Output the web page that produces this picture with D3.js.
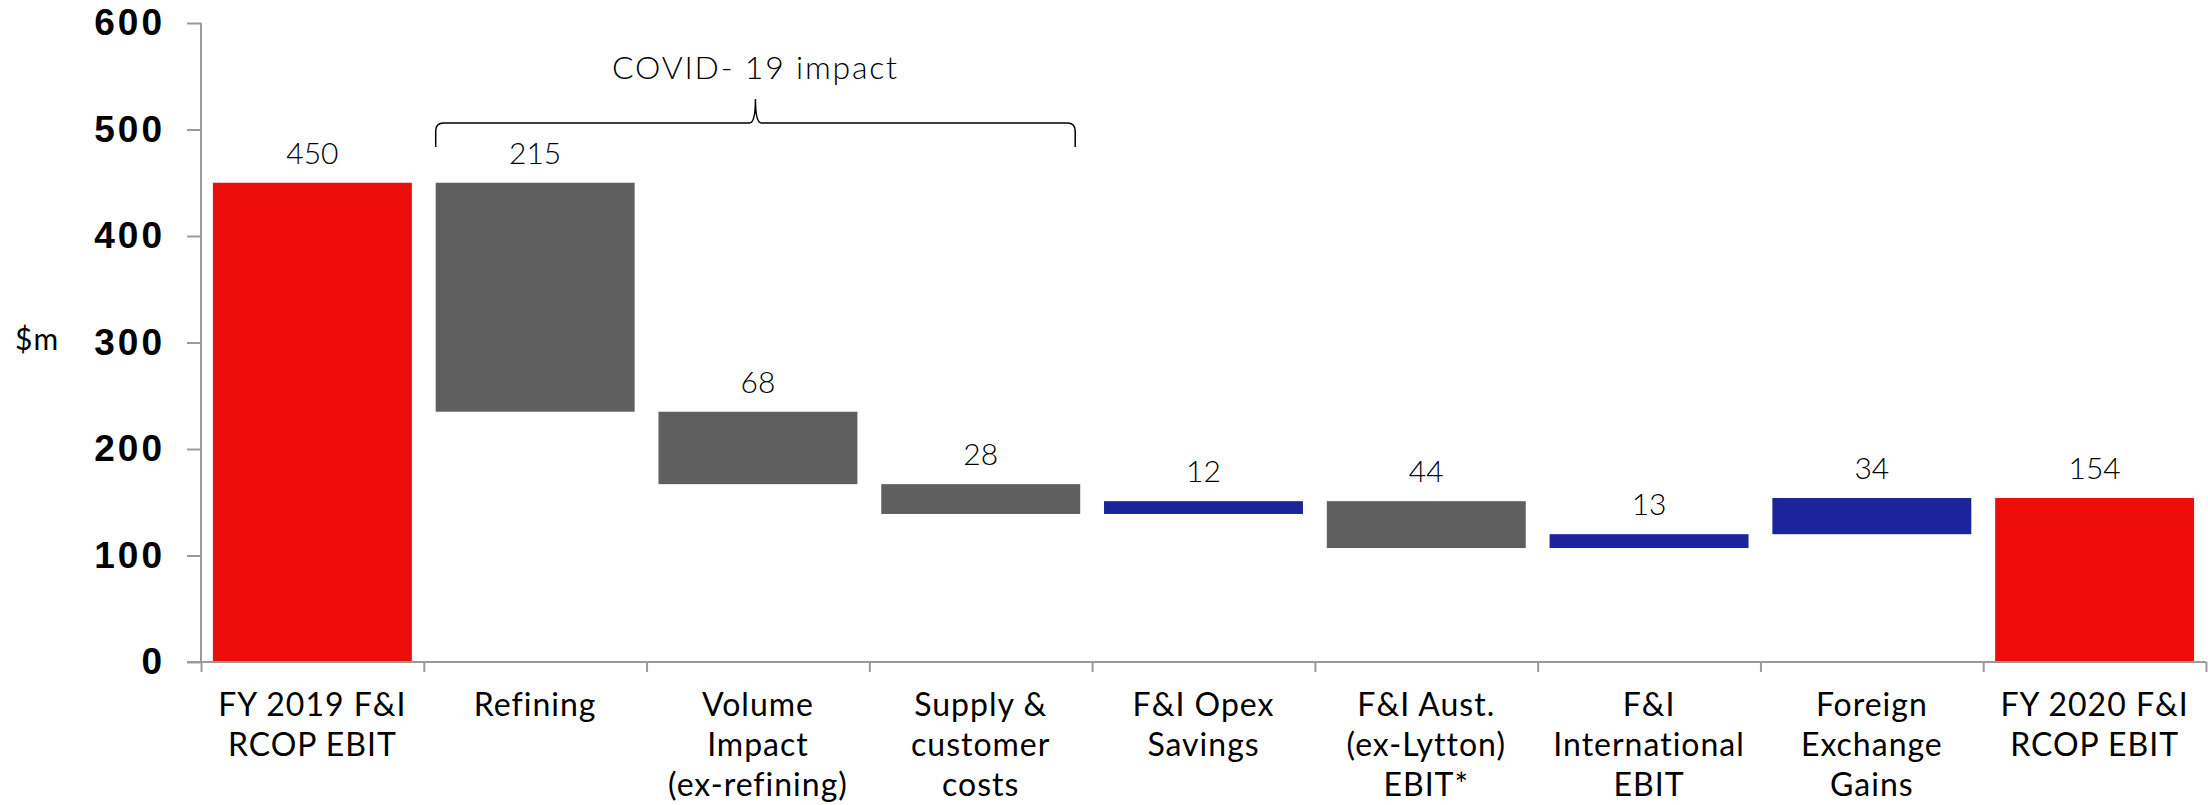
<!DOCTYPE html>
<html>
<head>
<meta charset="utf-8">
<script src="https://cdn.jsdelivr.net/npm/d3@7"></script>
<style>
  html, body { margin: 0; padding: 0; background: #ffffff; }
  svg { display: block; }
</style>
</head>
<body>
<svg id="chart" width="2208" height="805"></svg>
<script>
// F&I RCOP EBIT bridge, FY2019 to FY2020 ($m)
const categories = [
  ["FY 2019 F&I", "RCOP EBIT"],
  ["Refining"],
  ["Volume", "Impact", "(ex-refining)"],
  ["Supply &", "customer", "costs"],
  ["F&I Opex", "Savings"],
  ["F&I Aust.", "(ex-Lytton)", "EBIT*"],
  ["F&I", "International", "EBIT"],
  ["Foreign", "Exchange", "Gains"],
  ["FY 2020 F&I", "RCOP EBIT"]
];
// step kind: total, decrease, increase
const kinds = ["total", "down", "down", "down", "up", "down", "up", "up", "total"];
const values = [450, 215, 68, 28, 12, 44, 13, 34, 154];
const yTicks = [0, 100, 200, 300, 400, 500, 600];
const bracketLabel = "COVID- 19 impact";
const bracketFrom = 1, bracketTo = 3;

const colors = { total: "#ed0e0b", down: "#5f5f5f", up: "#1b249b" };

// running totals give each floating bar its start and end
let running = 0;
const steps = values.map((v, i) => {
  let lo, hi;
  if (kinds[i] === "total") { lo = 0; hi = v; running = v; }
  else if (kinds[i] === "down") { hi = running; lo = running - v; running = lo; }
  else { lo = running; hi = running + v; running = hi; }
  return { i, v, lo, hi, kind: kinds[i] };
});

const svg = d3.select("#chart");
const plotL = 201, plotR = 2206, plotT = 23, plotB = 662;

const y = d3.scaleLinear().domain([0, 600]).range([plotB, plotT]);
const x = d3.scaleBand().domain(d3.range(categories.length)).range([plotL, plotR]).paddingInner(0.107).paddingOuter(0.0535);
const xb = d3.scaleLinear().domain([0, categories.length]).range([plotL, plotR]);

// y axis
const yAxis = svg.append("g").attr("transform", `translate(${plotL},0)`)
  .call(d3.axisLeft(y).tickValues(yTicks).tickSize(14).tickPadding(22).tickFormat(d3.format("d")));
yAxis.select(".domain").attr("stroke", "#9a9a9a").attr("stroke-width", 2).attr("d", `M0,${plotT}V${plotB}`);
yAxis.selectAll(".tick line").attr("stroke", "#9a9a9a").attr("stroke-width", 2);
yAxis.selectAll(".tick text")
  .attr("font-family", "'Liberation Sans', Arial, sans-serif").attr("font-weight", 700)
  .attr("font-size", 37).attr("fill", "#000").attr("letter-spacing", 3);

svg.append("text").attr("x", 15).attr("y", 350)
  .attr("font-family", "Lato, sans-serif").attr("font-size", 30).attr("fill", "#000")
  .attr("letter-spacing", 1)
  .text("$m");

// bars
svg.append("g").selectAll("rect").data(steps).join("rect")
  .attr("x", d => x(d.i))
  .attr("width", x.bandwidth())
  .attr("y", d => y(d.hi))
  .attr("height", d => y(d.lo) - y(d.hi))
  .attr("fill", d => colors[d.kind]);

// value labels
svg.append("g").selectAll("text").data(steps).join("text")
  .attr("x", d => x(d.i) + x.bandwidth() / 2)
  .attr("y", d => y(d.hi) - 19)
  .attr("text-anchor", "middle")
  .attr("font-family", "Lato, sans-serif").attr("font-weight", 300)
  .attr("font-size", 30).attr("fill", "#000")
  .text(d => d.v);

// x axis with ticks on category boundaries
const xAxis = svg.append("g").attr("transform", `translate(0,${plotB})`)
  .call(d3.axisBottom(xb).tickValues(d3.range(categories.length + 1)).tickSize(10).tickFormat(""));
xAxis.select(".domain").attr("stroke", "#9a9a9a").attr("stroke-width", 2).attr("d", `M${plotL - 14},0H${plotR}`);
xAxis.selectAll(".tick line").attr("stroke", "#9a9a9a").attr("stroke-width", 2);

// category labels
const catG = svg.append("g").selectAll("text").data(categories).join("text")
  .attr("text-anchor", "middle")
  .attr("font-family", "Lato, sans-serif").attr("font-size", 32).attr("fill", "#000")
  .attr("letter-spacing", 1)
  .attr("transform", (d, i) => `translate(${x(i) + x.bandwidth() / 2},716)`);
catG.selectAll("tspan").data(d => d).join("tspan")
  .attr("x", 0).attr("y", (d, j) => j * 40)
  .text(d => d);

// brace over the COVID-19 steps
const bx0 = x(bracketFrom), bx1 = x(bracketTo) + x.bandwidth() - 5;
const bm = (bx0 + bx1) / 2;
const bTop = 123, bEnd = 147, bPeak = 99;
svg.append("path")
  .attr("d", `M${bx0},${bEnd} L${bx0},${bTop + 8} Q${bx0},${bTop} ${bx0 + 8},${bTop}
              L${bm - 6},${bTop} Q${bm},${bTop} ${bm},${bPeak}
              Q${bm},${bTop} ${bm + 6},${bTop}
              L${bx1 - 8},${bTop} Q${bx1},${bTop} ${bx1},${bTop + 8} L${bx1},${bEnd}`)
  .attr("fill", "none").attr("stroke", "#000").attr("stroke-width", 1.5);
svg.append("text").attr("x", bm).attr("y", 79)
  .attr("text-anchor", "middle")
  .attr("font-family", "Lato, sans-serif").attr("font-weight", 300)
  .attr("font-size", 32).attr("fill", "#000").attr("letter-spacing", 1.8)
  .text(bracketLabel);
</script>
</body>
</html>
